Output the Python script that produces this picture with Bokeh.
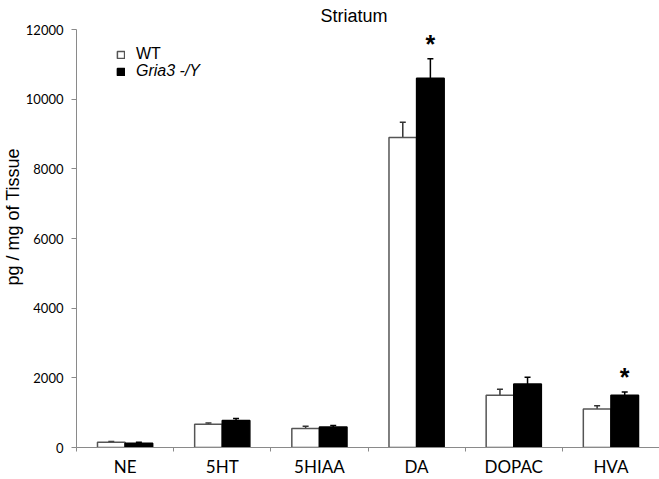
import numpy as np
from bokeh.plotting import figure
from bokeh.models import (ColumnDataSource, Range1d, FixedTicker, Whisker, TeeHead,
                          Legend, LegendItem, Title)
from bokeh.core.properties import value
from bokeh.embed import file_html
from bokeh.resources import INLINE

# ---- data ----
categories = ["NE", "5HT", "5HIAA", "DA", "DOPAC", "HVA"]
wt = [152, 667, 543, 8900, 1497, 1105]
wt_err = [18, 37, 67, 440, 172, 95]
ko = [123, 773, 590, 10600, 1820, 1497]
ko_err = [29, 57, 40, 560, 200, 94]
stars = ["", "", "", "*", "", "*"]
title_text = "Striatum"
y_label = "pg / mg of Tissue"
series_labels = ["WT", "Gria3 -/Y"]
y_ticks = [0, 2000, 4000, 6000, 8000, 10000, 12000]

n = len(categories)
centers = np.arange(n) + 0.5
bar_w = 0.284
wt_x = centers - bar_w / 2
ko_x = centers + bar_w / 2

src_wt = ColumnDataSource(dict(x=wt_x, top=wt, lower=wt, upper=np.array(wt) + np.array(wt_err)))
src_ko = ColumnDataSource(dict(x=ko_x, top=ko, lower=ko, upper=np.array(ko) + np.array(ko_err),
                               star=stars))

p = figure(width=659, height=479, x_range=Range1d(0, n), y_range=Range1d(0, 12000),
           output_backend="svg", toolbar_location=None, title=title_text,
           min_border_left=76, min_border_right=0, min_border_top=28, min_border_bottom=32)
p.outline_line_color = None
p.xgrid.visible = False
p.ygrid.visible = False
p.background_fill_color = "white"

p.title.text_font = "Liberation Sans"
p.title.text_font_size = "18px"
p.title.text_font_style = "normal"
p.title.text_color = "black"
p.title.align = "left"
p.title.offset = 244
p.title.standoff = 7

axis_col = "#8a8a8a"
# x axis: labels at centers, ticks at boundaries
p.xaxis.ticker = FixedTicker(ticks=list(centers), minor_ticks=list(range(n + 1)))
p.xaxis.major_label_overrides = {float(c): lab for c, lab in zip(centers, categories)}
p.xaxis.axis_label = None
p.xaxis.axis_label_standoff = 0
p.xaxis.major_tick_out = 0
p.xaxis.major_tick_in = 0
p.xaxis.minor_tick_out = 4
p.xaxis.minor_tick_in = 0
p.xaxis.minor_tick_line_color = axis_col
p.xaxis.axis_line_color = axis_col
p.xaxis.major_label_text_font = "Lato"
p.xaxis.major_label_text_font_size = "17px"
p.xaxis.major_label_text_color = "black"
p.xaxis.major_label_standoff = 4

p.yaxis.ticker = FixedTicker(ticks=y_ticks, minor_ticks=[])
p.yaxis.major_tick_out = 5
p.yaxis.major_tick_in = 0
p.yaxis.minor_tick_out = 0
p.yaxis.minor_tick_in = 0
p.yaxis.major_tick_line_color = axis_col
p.yaxis.axis_line_color = axis_col
p.yaxis.major_label_text_font = "Lato"
p.yaxis.major_label_text_font_size = "13px"
p.yaxis.major_label_text_color = "black"
p.yaxis.major_label_standoff = 8

# y label as a side title so it can sit where the original does
p.add_layout(Title(text=y_label, align="left", offset=162, standoff=0,
                   text_font="Liberation Sans", text_font_size="18px",
                   text_font_style="normal", text_color="black"), "left")

r_wt = p.vbar(x="x", top="top", width=bar_w, bottom=0, source=src_wt,
              fill_color="white", line_color="#555555", line_width=1.5)
r_ko = p.vbar(x="x", top="top", width=bar_w, bottom=0, source=src_ko,
              fill_color="black", line_color="black", line_width=1.5)

for src, col in ((src_wt, "#333333"), (src_ko, "black")):
    w = Whisker(base="x", lower="lower", upper="upper", source=src, dimension="height",
                line_color=col, line_width=1.5, lower_head=None,
                upper_head=TeeHead(size=6, line_width=1.5, line_color=col))
    p.add_layout(w)

p.text(x="x", y="upper", text="star", source=src_ko, text_align="center",
       text_baseline="alphabetic", y_offset=-15, text_font=value("Liberation Sans"),
       text_font_size="25px", text_font_style="bold", text_color="black")

# legends
for i, (lab, r, style) in enumerate(zip(series_labels, [r_wt, r_ko], ["normal", "italic"])):
    lg = Legend(items=[LegendItem(label=lab, renderers=[r])], location=(40, 384 - 17 * i),
                orientation="vertical", padding=0, margin=0, border_line_alpha=0,
                background_fill_alpha=0, glyph_width=9, glyph_height=9,
                label_height=9, label_standoff=11, label_text_font="Liberation Sans",
                label_text_font_size="16px", label_text_font_style=style,
                label_text_color="black")
    p.add_layout(lg)

open("out.html", "w").write(file_html(p, INLINE))
